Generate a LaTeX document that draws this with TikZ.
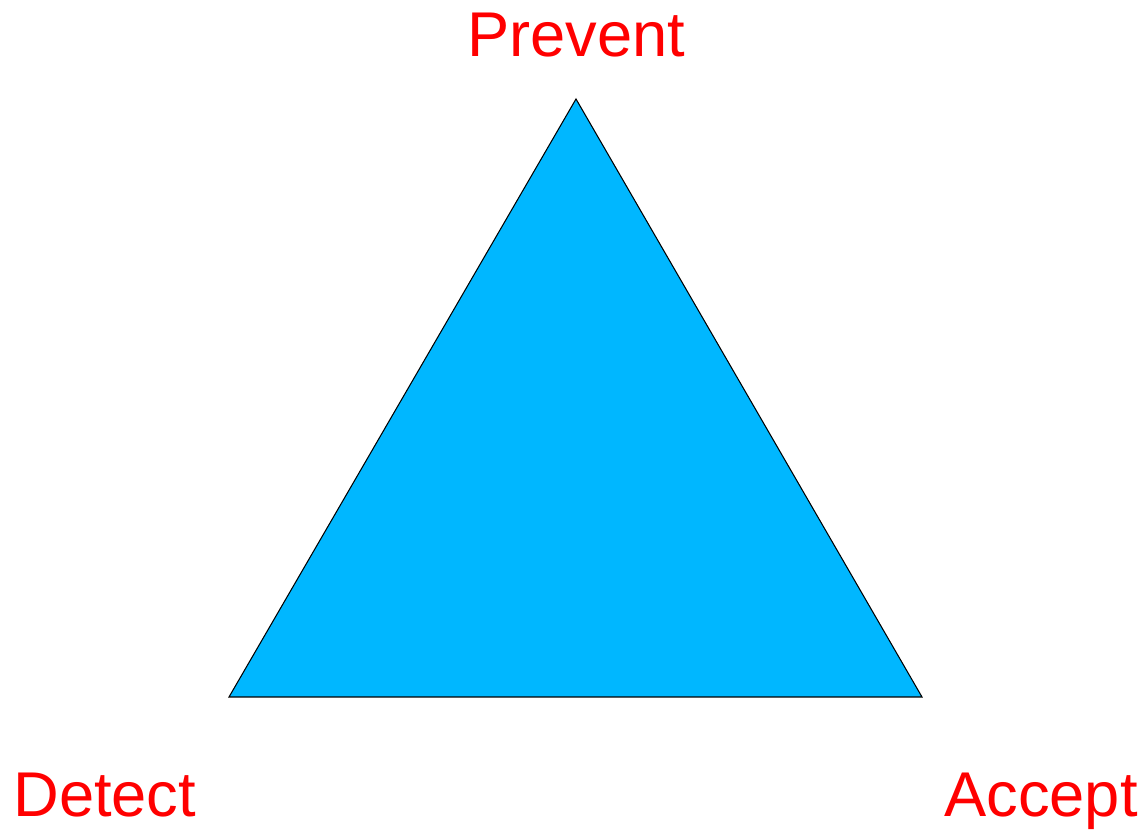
\documentclass[tikz,border=0pt]{standalone}
\usepackage{fontspec}
\setmainfont{Liberation Sans}
\usetikzlibrary{positioning}
\definecolor{triblue}{RGB}{0,183,255}
\definecolor{labelred}{RGB}{255,0,0}

\begin{document}
\begin{tikzpicture}[x=0.02cm,y=0.02cm]
  \useasboundingbox (0,0) rectangle (1146,831);
  \tikzset{corner/.style={labelred,inner sep=0pt,font=\fontsize{36}{43}\selectfont}}
  \coordinate (P) at (576,732);
  \coordinate (D) at (229,134);
  \coordinate (A) at (922,134);
  \draw[fill=triblue,line width=0.6pt,line join=miter] (P)--(D)--(A)--cycle;
  \node[corner,anchor=base] (prevent) at (576,774) {Prevent};
  \node[corner,anchor=base west] (detect) at (13,14) {Detect};
  \node[corner,anchor=base east] (accept) at (1138,14) {Accept};
\end{tikzpicture}
\end{document}
